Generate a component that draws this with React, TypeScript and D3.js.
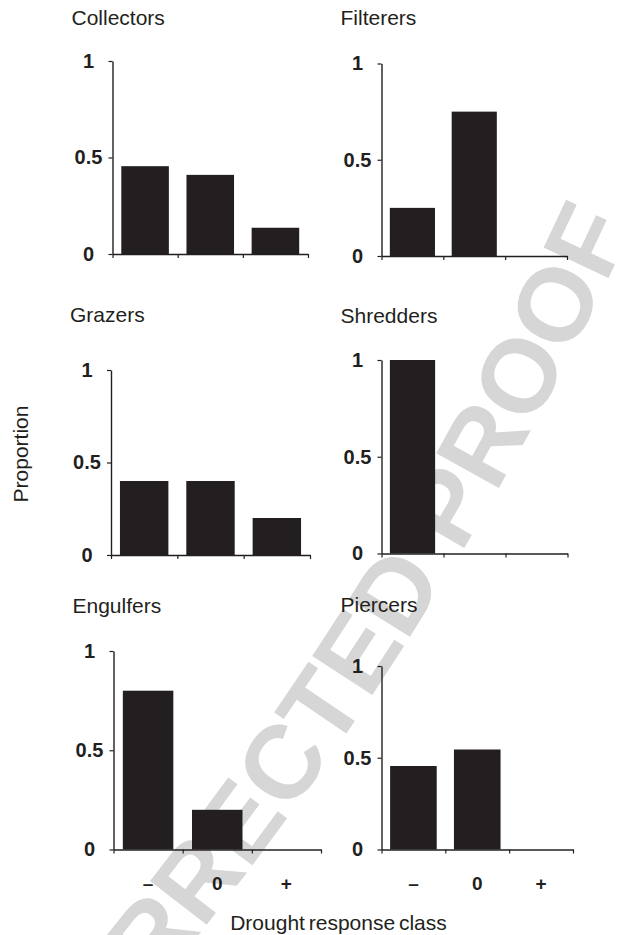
import React, { useRef, useEffect } from 'react';
import * as d3 from 'd3';

// drought response classes and the share of taxa in each, per feeding group
const classes = ['–', '0', '+'];
const groups = ['Collectors', 'Filterers', 'Grazers', 'Shredders', 'Engulfers', 'Piercers'];
const collectors = [0.455, 0.41, 0.136];
const filterers = [0.25, 0.75, 0];
const grazers = [0.4, 0.4, 0.2];
const shredders = [1, 0, 0];
const engulfers = [0.8, 0.2, 0];
const piercers = [0.455, 0.545, 0];
const yTicks = [0, 0.5, 1];
const yTickLabels = ['0', '0.5', '1'];

const seriesByGroup = [collectors, filterers, grazers, shredders, engulfers, piercers];

// panel frames (page px): left, right, top of the 1 tick, zero line
const frames = [
  { x0: 112.5, x1: 308, top: 61, base: 254, titleY: 25 },
  { x0: 381.5, x1: 567, top: 63.5, base: 256, titleY: 25 },
  { x0: 111, x1: 310, top: 370, base: 555, titleY: 322 },
  { x0: 381.5, x1: 567.5, top: 360, base: 553.5, titleY: 323 },
  { x0: 113.5, x1: 321, top: 651, base: 849.5, titleY: 613 },
  { x0: 381.5, x1: 573, top: 666, base: 849.5, titleY: 612 },
];

const W = 623;
const H = 935;
const FONT = 'Arial, "Liberation Sans", Helvetica, sans-serif';
const INK = '#231f20';

// arc for the "CORRECTED PROOF" stamp
function stampPath() {
  const a = [225, 901];
  const b = [621, 251];
  const R = 3500;
  const L = Math.hypot(b[0] - a[0], b[1] - a[1]);
  const u = [(b[0] - a[0]) / L, (b[1] - a[1]) / L];
  const m = [(a[0] + b[0]) / 2, (a[1] + b[1]) / 2];
  const d = Math.sqrt(R * R - (L / 2) * (L / 2));
  const c = [m[0] + d * u[1], m[1] - d * u[0]];
  const angA = Math.atan2(a[1] - c[1], a[0] - c[0]);
  const start = angA + 268 / R;
  const end = angA - 950 / R;
  const p0 = [c[0] + R * Math.cos(start), c[1] + R * Math.sin(start)];
  const p1 = [c[0] + R * Math.cos(end), c[1] + R * Math.sin(end)];
  return `M ${p0[0]} ${p0[1]} A ${R} ${R} 0 0 0 ${p1[0]} ${p1[1]}`;
}

const App = () => {
  const ref = useRef(null);

  useEffect(() => {
    const svg = d3.select(ref.current);
    svg.selectAll('*').remove();

    // watermark behind everything
    svg.append('defs')
      .append('path')
      .attr('id', 'wm')
      .attr('d', stampPath());
    svg.append('text')
      .attr('font-family', FONT)
      .attr('font-size', 104)
      .attr('font-weight', 'bold')
      .attr('fill', '#d6d6d6')
      .append('textPath')
      .attr('href', '#wm')
      .text('CORRECTED PROOF');

    groups.forEach((name, i) => {
      const f = frames[i];
      const data = seriesByGroup[i];
      const g = svg.append('g');

      const x = d3.scaleBand()
        .domain(classes)
        .range([f.x0, f.x1])
        .paddingInner(0.27)
        .paddingOuter(0.135);

      const xEdges = d3.scaleLinear().domain([0, 3]).range([f.x0, f.x1]);

      const y = d3.scaleLinear().domain([0, 1]).range([f.base, f.top]);

      g.selectAll('rect')
        .data(data)
        .enter()
        .append('rect')
        .attr('x', (d, j) => x(classes[j]))
        .attr('y', d => y(d))
        .attr('width', x.bandwidth())
        .attr('height', d => f.base - y(d))
        .attr('fill', INK);

      // y axis
      const ya = g.append('g')
        .attr('transform', `translate(${f.x0},0)`)
        .call(d3.axisLeft(y)
          .tickValues(yTicks)
          .tickFormat((d, j) => yTickLabels[j])
          .tickSize(4)
          .tickSizeOuter(0));
      ya.select('.domain').attr('stroke', INK).attr('stroke-width', 1.4);
      ya.selectAll('.tick line').attr('stroke', INK).attr('stroke-width', 1.2);
      ya.selectAll('.tick text')
        .attr('x', -24)
        .attr('text-anchor', 'middle')
        .attr('font-family', FONT)
        .attr('font-size', 20)
        .attr('font-weight', 'bold')
        .attr('fill', INK);

      // x axis with ticks at class boundaries
      const xa = g.append('g')
        .attr('transform', `translate(0,${f.base})`)
        .call(d3.axisBottom(xEdges)
          .tickValues([0, 1, 2, 3])
          .tickFormat(() => '')
          .tickSize(4)
          .tickSizeOuter(0));
      xa.select('.domain').attr('stroke', INK).attr('stroke-width', 1.4);
      xa.selectAll('.tick line').attr('stroke', INK).attr('stroke-width', 1.2);
      xa.selectAll('.tick text').remove();

      // class labels only on the bottom row
      if (i >= 4) {
        g.selectAll('.cls')
          .data(classes)
          .enter()
          .append('text')
          .attr('x', d => x(d) + x.bandwidth() / 2)
          .attr('y', 890)
          .attr('text-anchor', 'middle')
          .attr('font-family', FONT)
          .attr('font-size', 19)
          .attr('font-weight', 'bold')
          .attr('fill', INK)
          .text(d => d);
      }

      g.append('text')
        .attr('x', f.x0 - 41)
        .attr('y', f.titleY)
        .attr('font-family', FONT)
        .attr('font-size', 21)
        .attr('fill', INK)
        .text(name);
    });

    svg.append('text')
      .attr('transform', 'translate(27.5,454) rotate(-90)')
      .attr('text-anchor', 'middle')
      .attr('font-family', FONT)
      .attr('font-size', 21)
      .attr('fill', INK)
      .text('Proportion');

    svg.append('text')
      .attr('x', 338.5)
      .attr('y', 930)
      .attr('text-anchor', 'middle')
      .attr('font-family', FONT)
      .attr('font-size', 21)
      .attr('word-spacing', -2)
      .attr('fill', INK)
      .text('Drought response class');
  }, []);

  return (
    <svg
      ref={ref}
      width={W}
      height={H}
      style={{ position: 'absolute', left: 0, top: 0, background: '#fff' }}
    />
  );
};

export default App;
